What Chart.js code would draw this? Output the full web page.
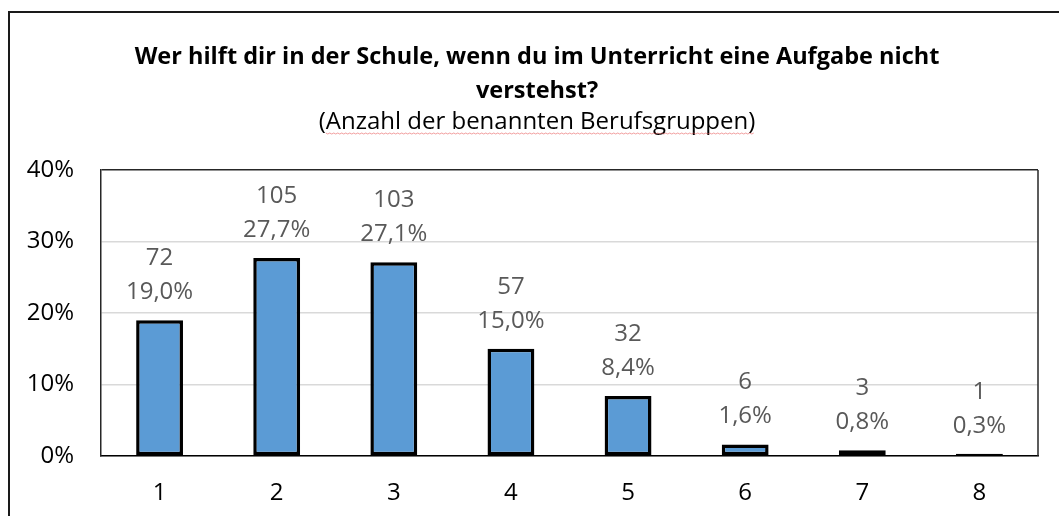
<!DOCTYPE html>
<html>
<head>
<meta charset="utf-8">
<script src="https://cdn.jsdelivr.net/npm/chart.js@4/dist/chart.umd.min.js"></script>
<style>
  html, body { margin: 0; padding: 0; background: #fff; overflow: hidden; }
  #frame {
    position: absolute; left: 8px; top: 11px;
    width: 1054px; height: 503px;
    border-top: 2px solid #1a1a1a; border-left: 2px solid #1a1a1a;
  }
</style>
</head>
<body>
<div id="frame"><canvas id="chart"></canvas></div>
<script>
const categories = ['1', '2', '3', '4', '5', '6', '7', '8'];
const counts = [72, 105, 103, 57, 32, 6, 3, 1];
const percents = [19.0, 27.7, 27.1, 15.0, 8.4, 1.6, 0.8, 0.3];
const yTicks = [0, 10, 20, 30, 40];

const titleLines = ['Wer hilft dir in der Schule, wenn du im Unterricht eine Aufgabe nicht', 'verstehst?'];
const subtitleText = '(Anzahl der benannten Berufsgruppen)';

const FONT = '"Open Sans", "Noto Sans", sans-serif';

// count and percentage above each bar
const valueLabels = {
  id: 'valueLabels',
  afterDatasetsDraw(chart) {
    const ctx = chart.ctx;
    const meta = chart.getDatasetMeta(0);
    ctx.save();
    ctx.font = '24px ' + FONT;
    ctx.fillStyle = '#595959';
    ctx.textAlign = 'center';
    ctx.textBaseline = 'middle';
    meta.data.forEach((bar, i) => {
      ctx.fillText(String(counts[i]), bar.x, bar.y - 62);
      ctx.fillText(percents[i].toFixed(1).replace('.', ',') + '%', bar.x, bar.y - 28);
    });
    ctx.restore();
  }
};

// right edge of the plot box + spell-check squiggle under the subtitle
const frameExtras = {
  id: 'frameExtras',
  afterDraw(chart) {
    const ctx = chart.ctx;
    const a = chart.chartArea;
    ctx.save();
    ctx.strokeStyle = '#262626';
    ctx.lineWidth = 1.5;
    ctx.beginPath();
    ctx.moveTo(a.right, a.top);
    ctx.lineTo(a.right, a.bottom);
    ctx.stroke();

    ctx.font = '24px ' + FONT;
    const w = ctx.measureText(subtitleText).width;
    const skip = ctx.measureText('(').width;
    const x0 = chart.width / 2 - w / 2 + skip;
    const x1 = chart.width / 2 + w / 2;
    const y = 120;
    ctx.strokeStyle = 'rgba(230, 80, 80, 0.55)';
    ctx.lineWidth = 1;
    ctx.beginPath();
    for (let x = x0; x <= x1; x += 2) {
      const yy = y + ((Math.round((x - x0) / 2) % 2) ? 1 : 0);
      if (x === x0) ctx.moveTo(x, yy); else ctx.lineTo(x, yy);
    }
    ctx.stroke();
    ctx.restore();
  }
};

new Chart(document.getElementById('chart'), {
  type: 'bar',
  data: {
    labels: categories,
    datasets: [{
      data: percents,
      backgroundColor: '#5B9BD5',
      borderColor: '#000000',
      borderWidth: 3.5,
      borderSkipped: false,
      categoryPercentage: 1,
      barPercentage: 0.4
    }]
  },
  options: {
    responsive: true,
    maintainAspectRatio: false,
    animation: false,
    layout: { padding: 0 },
    plugins: {
      legend: { display: false },
      tooltip: { enabled: false },
      title: {
        display: true,
        text: titleLines,
        color: '#000000',
        font: { family: FONT, size: 23.5, weight: 'bold', lineHeight: 1.45 },
        padding: { top: 27, bottom: 0 }
      },
      subtitle: {
        display: true,
        text: subtitleText,
        color: '#000000',
        font: { family: FONT, size: 24, lineHeight: 1.2 },
        padding: { top: 0, bottom: 33 }
      }
    },
    scales: {
      x: {
        grid: { display: false, drawTicks: false },
        border: { display: true, color: '#000000', width: 1.5 },
        ticks: { color: '#000000', padding: 23, font: { family: FONT, size: 24 } },
        afterFit(scale) { scale.height = 60; }
      },
      y: {
        min: 0,
        max: 40,
        afterBuildTicks(scale) { scale.ticks = yTicks.map(v => ({ value: v })); },
        grid: {
          drawTicks: false,
          color: ctx => ctx.tick && ctx.tick.value === 40 ? '#262626' : '#d9d9d9',
          lineWidth: 1.5
        },
        border: { display: true, color: '#262626', width: 1.5 },
        ticks: {
          color: '#000000',
          padding: 27,
          font: { family: FONT, size: 24 },
          callback: v => v + '%'
        },
        afterFit(scale) { scale.width = 91; }
      },
      // empty spacer on the right so the plot box ends short of the frame
      spacer: {
        type: 'linear',
        position: 'right',
        grid: { display: false, drawTicks: false },
        border: { display: false },
        ticks: { display: false },
        afterFit(scale) { scale.width = 26; }
      }
    }
  },
  plugins: [valueLabels, frameExtras]
});
</script>
</body>
</html>
